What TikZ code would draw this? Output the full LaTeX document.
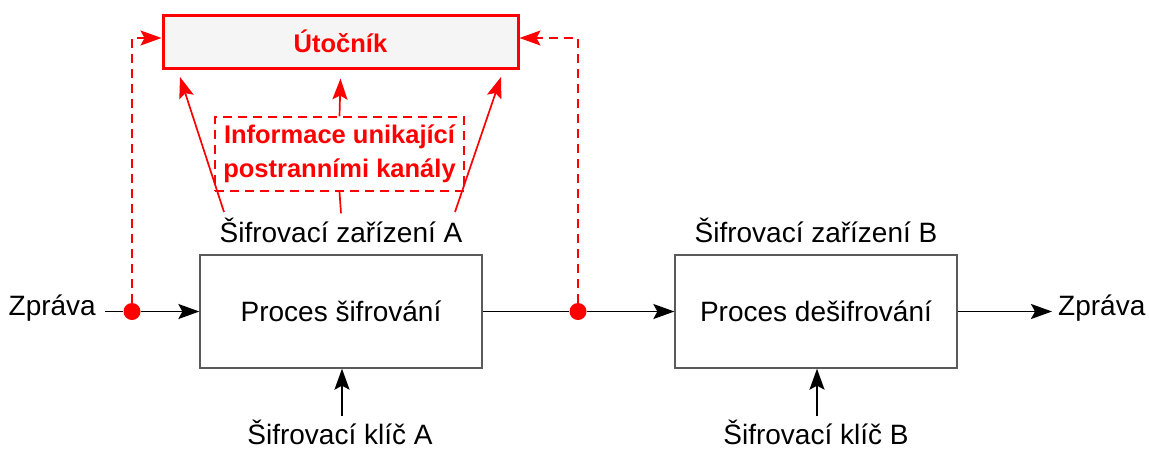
\documentclass[tikz,border=0pt]{standalone}
\usepackage{fontspec}
\setmainfont{Liberation Sans}
\usetikzlibrary{arrows.meta,calc}
\definecolor{atk}{HTML}{FF0000}
\definecolor{boxline}{HTML}{5A5A5A}
\definecolor{atkfill}{HTML}{F5F5F5}
\begin{document}
\begin{tikzpicture}[x=1pt,y=-1pt,
  tip/.style={-{Stealth[length=21pt,width=15pt,inset=4pt]}},
  lbl/.style={font=\fontsize{28}{32}\selectfont, inner sep=0pt},
  proc/.style={draw=boxline, line width=1.3pt, minimum width=282pt, minimum height=113pt,
    inner sep=0pt, text height=20pt, text depth=0pt, font=\fontsize{28}{32}\selectfont},
  wire/.style={line width=1.8pt},
  flow/.style={wire, tip},
  tap/.style={circle, fill=atk, minimum size=17pt, inner sep=0pt},
  spy/.style={draw=atk, line width=1.6pt, dash pattern=on 9pt off 6pt, tip},
  leakarrow/.style={draw=atk, line width=1.7pt, tip},
  redtext/.style={text=atk, font=\fontsize{25.5}{34}\selectfont\bfseries}
]
\useasboundingbox (0,0) rectangle (1149,448);

% attacker and the side-channel leak
\node[draw=atk, line width=3pt, fill=atkfill, minimum width=355pt, minimum height=53pt,
  inner sep=0pt, redtext] (att) at (340.5,41.5) {Útočník};
\node[draw=atk, line width=1.5pt, dash pattern=on 9pt off 6pt, minimum width=249pt,
  minimum height=74pt, inner sep=0pt, align=center, redtext] (leak) at (339.5,154)
  {Informace unikající\\postranními kanály};

% devices
\node[lbl, anchor=base] (devA) at (341,242) {Šifrovací zařízení A};
\node[lbl, anchor=base] (devB) at (816,242) {Šifrovací zařízení B};
\node[proc] (pA) at (341,311.5) {Proces šifrování};
\node[proc] (pB) at (816,311.5) {Proces dešifrování};

% keys and messages
\node[lbl, anchor=base] (keyA) at (340,444) {Šifrovací klíč A};
\node[lbl, anchor=base] (keyB) at (816,444) {Šifrovací klíč B};
\node[lbl, anchor=base east] (zin) at (96,315) {Zpráva};
\node[lbl, anchor=base west] (zout) at (1058,315) {Zpráva};

% tapping points
\node[tap] (d1) at (132,311.5) {};
\node[tap] (d2) at (578,311.5) {};

% message flow
\draw[wire] ([xshift=9pt]zin.east |- d1) -- (d1);
\draw[flow] (d1) -- (pA.west);
\draw[wire] (pA.east) -- (d2);
\draw[flow] (d2) -- (pB.west);
\draw[flow, shorten >=6pt] (pB.east) -- (zout.west |- pB.east);
\draw[flow] ([xshift=2pt,yshift=3pt]keyA.north) -- ([xshift=2pt]keyA.north |- pA.south);
\draw[flow] ([xshift=1pt,yshift=3pt]keyB.north) -- ([xshift=1pt]keyB.north |- pB.south);

% eavesdropping on the channel
\draw[spy] (d1) |- ([yshift=3.5pt]att.west);
\draw[spy] (d2) |- ([yshift=3.5pt]att.east);

% side-channel leakage
\coordinate (sL) at (224,212);
\coordinate (tL) at (180,77);
\coordinate (sR) at (455,212);
\coordinate (tR) at (501,77);
\draw[leakarrow] (sL) -- (tL);
\draw[leakarrow] (sR) -- (tR);
\draw[leakarrow] (leak.north) -- ([yshift=-9pt]att.south);
\draw[draw=atk, line width=1.7pt] ([yshift=4pt]devA.north) -- (leak.south);
\end{tikzpicture}
\end{document}
